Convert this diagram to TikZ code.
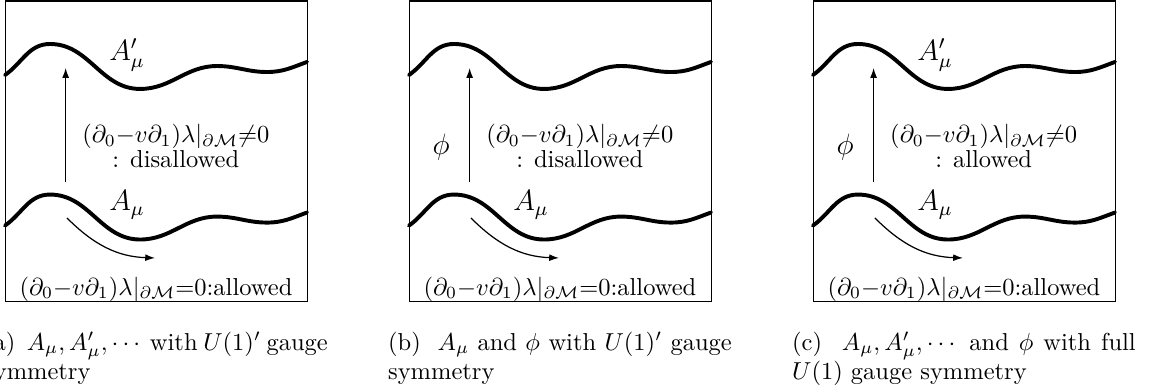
\documentclass[tikz,border=0pt]{standalone}
\usepackage{amsmath,amssymb}
\usetikzlibrary{arrows.meta,positioning}
\newcommand{\gdiff}{(\partial_0{-}v\partial_1)\lambda|_{\partial\mathcal{M}}}
\tikzset{
  panel/.style={draw=black,line width=.5pt,minimum width=4.332cm,
                minimum height=4.31cm,anchor=south west,inner sep=0pt},
  wave/.style={line width=1.6pt,line cap=round},
  shiftarr/.style={-{Latex[length=4pt,width=2.8pt]},line width=.5pt},
  fieldlab/.style={font=\large,inner sep=1pt},
  cond/.style={align=center,inner sep=0pt},
  capt/.style={text width=4.93cm,align=justify,inner sep=0pt,anchor=base},
}
\begin{document}
\begin{tikzpicture}[x=1cm,y=1cm]
  \useasboundingbox (-0.072,-1.262) rectangle (16.454,4.332);
  % three panels: frame, two field lines, the two kinds of shift
  \foreach \i/\tag in {0/a,1/b,2/c}{
    \begin{scope}[xshift=\i*5.795cm]
      \node[panel] (frame\tag) at (0,0) {};
      \foreach \dy in {0,-2.16}
        \draw[wave,yshift=\dy cm] (0,3.256) to[out=35,in=180] (0.646,3.701)
          to[out=0,in=180] (1.937,3.056) to[out=0,in=180] (3.041,3.385)
          to[out=0,in=180] (3.758,3.299) to[out=0,in=200] (4.332,3.443);
      \coordinate (lo\tag) at (0.87,1.72);
      \coordinate (hi\tag) at (0.87,3.357);
      \draw[shiftarr] (lo\tag) -- (hi\tag);
      \coordinate (s\tag) at (0.889,1.205);
      \coordinate (e\tag) at (2.152,0.631);
      \draw[shiftarr] (s\tag) to[out=-45,in=178] (e\tag);
      \node[cond,anchor=base] (ok\tag) at (2.166,0.1) {$\gdiff{=}0$:allowed};
      \node[fieldlab] (A\tag) at (1.75,1.391) {$A_\mu$};
    \end{scope}}
  % labels that differ from panel to panel
  \node[fieldlab] (Apa) at (1.75,3.543) {$A'_\mu$};
  \node[fieldlab] (Apc) at (13.34,3.543) {$A'_\mu$};
  \node[fieldlab] (phib) at (6.255,2.223) {$\phi$};
  \node[fieldlab] (phic) at (12.05,2.223) {$\phi$};
  \node[cond] (noa) at (2.45,2.235) {$\gdiff{\neq}0$\\[-1.8pt] : disallowed};
  \node[cond] (nob) at (8.245,2.235) {$\gdiff{\neq}0$\\[-1.8pt] : disallowed};
  \node[cond] (noc) at (14.04,2.235) {$\gdiff{\neq}0$\\[-1.8pt] : allowed};
  % captions
  \node[capt] (capa) at (2.166,-0.69)
    {(a)\ \ $A_\mu, A'_\mu, \cdots$ with $U(1)'$ gauge\linebreak symmetry};
  \node[capt] (capb) at (7.961,-0.69)
    {(b)\ \ $A_\mu$ and $\phi$ with $U(1)'$ gauge\linebreak symmetry};
  \node[capt] (capc) at (13.756,-0.69)
    {(c)\ \ $A_\mu, A'_\mu, \cdots$ and $\phi$ with full\linebreak $U(1)$ gauge symmetry};
\end{tikzpicture}
\end{document}
